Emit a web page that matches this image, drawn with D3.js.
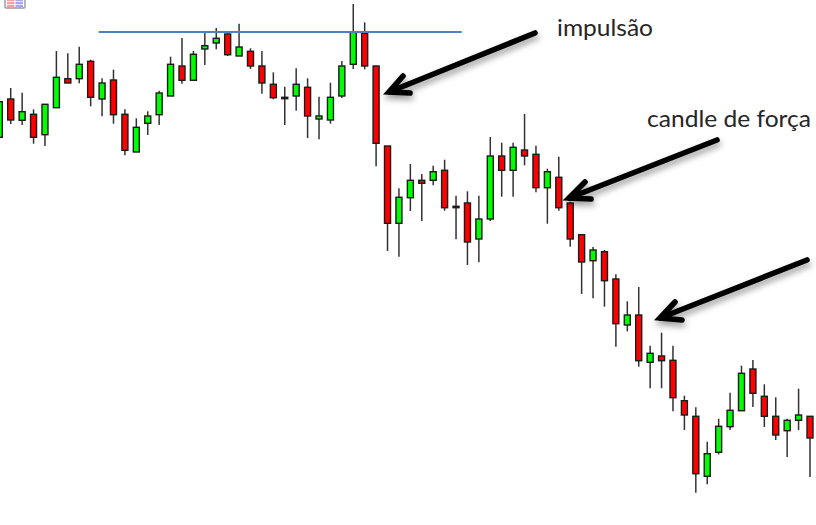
<!DOCTYPE html>
<html><head><meta charset="utf-8">
<script src="https://cdn.jsdelivr.net/npm/d3@7/dist/d3.min.js"></script>
<style>html,body{margin:0;padding:0;background:#fff;overflow:hidden}svg{display:block}</style>
</head><body><div id="chart"></div>
<script>
const opens=[387.7,426,404.7,410.7,390.3,417.3,446.3,446.3,463.7,426,445,410.7,373,401.7,410.3,429,459,444.7,476,482,491,469,473.7,459,440.7,427.7,429,437.7,406,405,429,460.7,491.7,459,379,301.7,327.3,344.7,344.7,354.7,318.7,322,286,306,369,354.7,375,370.7,337.3,347.7,322,290.3,264.3,273.3,246,200,210,162.7,169,164.7,124.3,108.7,48.7,72.7,98.3,114.3,156,128.7,108.7,94.3,104.7,108.7];
const highs=[426,437,432.3,415.7,421,474,471.7,478.3,465.3,446.7,455.3,415.7,406.7,413.7,434.3,468.3,487,474,492.7,497,491.7,501.3,476.7,474,452.7,438.3,456.7,446.7,428.3,442.3,464,521,502.7,459.3,379,336.7,361,351,359.3,365.3,329.3,333.7,329.3,388,382.3,382.3,411,379.3,356.3,368.3,323.3,290.3,278,275,250.7,223.7,238,179.3,192.3,179.3,129.3,117.7,83.3,106.3,132.3,159.3,165,140.7,127.7,106.3,136.3,108.7];
const lows=[386,401,400,381.3,379,417,442,441.7,418.7,408.7,401.3,369.7,373,390,400,429,441.3,444.7,460,475.7,469,469,456,431.3,425.7,400,414.3,387,385.7,401.3,427,456,455.7,358.7,274,268.3,314,304,339.7,314.3,285.7,260,262.7,304,328.3,328.3,359.7,332.7,301.3,314.3,278.3,231,226.7,218.3,178.3,193.7,158.3,136.7,136.7,113.7,95,32.3,40.7,70.7,95,114.3,118,98,85,68,95,48];
const closes=[423.3,405,413.3,387.7,420.7,447.7,442,460.7,427.7,442,410.3,374.7,397.7,409,432,460.7,444.7,470.7,479.3,486.7,470.3,478,459,442,427.3,426.3,440.7,409,409,427.7,459,492.7,459,381.7,301.7,327.7,344.7,341.7,353.3,317.3,317.3,283,306,369,354.7,377.7,369,337.3,353.3,317.3,286,263,275,244.3,201.3,210,164.3,171.7,164.3,127.3,110,51.3,71.3,98.7,114.7,151.7,131.7,108.7,90,104.7,110,87];
const candleIndex=d3.range(opens.length);
const resistanceLevel=[493];
const resistanceSpan=[8.7,40.5];
const labels=["impulsão","candle de força"];

const W=816,H=525;
const x=d3.scaleLinear().domain([0,71]).range([-0.7,810]);
const y=d3.scaleLinear().domain([0,525]).range([525,0]);
const svg=d3.select("#chart").append("svg").attr("width",W).attr("height",H);
const defs=svg.append("defs");
defs.append("filter").attr("id","soft").attr("x","-5%").attr("y","-5%").attr("width","110%").attr("height","110%")
  .append("feGaussianBlur").attr("stdDeviation",0.3);
const sh=defs.append("filter").attr("id","shadow").attr("x","-20%").attr("y","-40%").attr("width","140%").attr("height","200%");
sh.append("feDropShadow").attr("dx",1).attr("dy",4).attr("stdDeviation",3).attr("flood-color","#000").attr("flood-opacity",0.4);

// window icon, top left
const icon=svg.append("g").attr("filter","url(#soft)");
icon.append("rect").attr("x",5).attr("y",-4).attr("width",20).attr("height",12).attr("rx",1).attr("fill","#fff").attr("stroke","#9a9a9a").attr("stroke-width",1.4);
icon.append("rect").attr("x",7).attr("y",-2).attr("width",7.5).attr("height",9).attr("fill","#f5a3a0");
icon.append("rect").attr("x",15.5).attr("y",-2).attr("width",7.5).attr("height",9).attr("fill","#a6a6f5");
icon.selectAll("line").data([1.5,4.5]).join("line").attr("x1",7).attr("x2",23).attr("y1",d=>d).attr("y2",d=>d).attr("stroke","#fff").attr("stroke-width",.7);

// candles
const g=svg.append("g").attr("filter","url(#soft)");
const c=g.selectAll("g.candle").data(candleIndex).join("g").attr("class","candle");
c.append("line").attr("x1",i=>x(i)).attr("x2",i=>x(i)).attr("y1",i=>y(highs[i])).attr("y2",i=>y(lows[i]))
  .attr("stroke","#333").attr("stroke-width",1.5);
c.append("rect").attr("x",i=>x(i)-3).attr("width",6)
  .attr("y",i=>y(Math.max(opens[i],closes[i])))
  .attr("height",i=>Math.abs(y(opens[i])-y(closes[i])))
  .attr("fill",i=>closes[i]>opens[i]?"#00ff00":"#ff0000")
  .attr("stroke","#1a1a1a").attr("stroke-width",1.4);

// resistance line
svg.append("line").attr("x1",x(resistanceSpan[0])).attr("x2",x(resistanceSpan[1]))
  .attr("y1",y(resistanceLevel[0])).attr("y2",y(resistanceLevel[0]))
  .attr("stroke","#4f81bd").attr("stroke-width",2.2);

// arrows
const arrows=[
 {tail:[535,33],tip:[389,92],b1:[403,76],b2:[410,93]},
 {tail:[717,140],tip:[569,198],b1:[585,182],b2:[591,199]},
 {tail:[807,260],tip:[660,318],b1:[675,302],b2:[682,320]}
];
const ag=svg.append("g").attr("filter","url(#shadow)");
ag.selectAll("path").data(arrows).join("path")
  .attr("d",a=>`M${a.tail}L${a.tip}M${a.b1}L${a.tip}L${a.b2}`)
  .attr("fill","none").attr("stroke","#000").attr("stroke-width",5.6)
  .attr("stroke-linecap","round").attr("stroke-linejoin","miter");

// labels
const txt=svg.append("g").attr("font-family","Lato, 'Open Sans', sans-serif").attr("font-size",24).attr("fill","#262626");
txt.append("text").attr("x",557).attr("y",36).attr("textLength",96).attr("lengthAdjust","spacingAndGlyphs").text(labels[0]);
txt.append("text").attr("x",647).attr("y",127).attr("textLength",164).attr("lengthAdjust","spacingAndGlyphs").text(labels[1]);
</script></body></html>
